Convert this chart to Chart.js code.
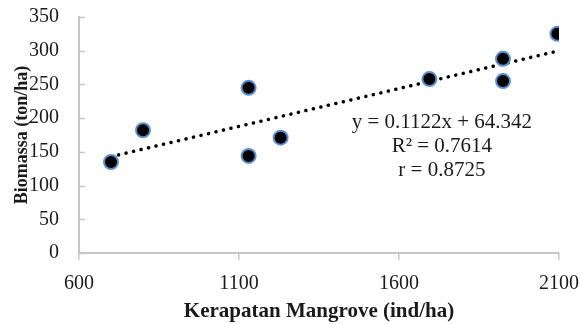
<!DOCTYPE html>
<html>
<head>
<meta charset="utf-8">
<script src="https://cdn.jsdelivr.net/npm/chart.js@4/dist/chart.umd.min.js"></script>
<style>
  html, body { margin: 0; padding: 0; background: #fff; }
  #wrap { width: 580px; height: 324px; position: relative; }
</style>
</head>
<body>
<div id="wrap"><canvas id="chart"></canvas></div>
<script>
// ── Data ────────────────────────────────────
const densityX = [700, 800, 1130, 1130, 1230, 1695, 1925, 1925, 2095];
const biomassY = [135, 182, 245, 144, 171, 258, 288, 255, 325];

// trendline end points
const trendX = [700, 2100];
const trendY = [142.9, 300.0];

const xTicks = [600, 1100, 1600, 2100];
const eqLines = ['y = 0.1122x + 64.342', 'R² = 0.7614', 'r = 0.8725'];

const AXIS_COLOR = '#c6c6c6';
const TEXT_COLOR = '#1a1a1a';
const FONT = "'Liberation Serif', 'Times New Roman', serif";

// inward tick marks on the y axis + regression label
const extrasPlugin = {
    id: 'extras',
    afterDraw(chart) {
        const { ctx, scales: { x, y } } = chart;
        ctx.save();
        ctx.strokeStyle = AXIS_COLOR;
        ctx.lineWidth = 1.5;
        for (let v = 0; v <= 350; v += 50) {
            const py = Math.round(y.getPixelForValue(v)) + 0.5;
            ctx.beginPath();
            ctx.moveTo(x.left, py);
            ctx.lineTo(x.left + 6, py);
            ctx.stroke();
        }
        ctx.fillStyle = TEXT_COLOR;
        ctx.font = `21px ${FONT}`;
        ctx.textAlign = 'center';
        ctx.textBaseline = 'middle';
        const cx = x.getPixelForValue(1734);
        const cy = y.getPixelForValue(194);
        eqLines.forEach((t, i) => ctx.fillText(t, cx, cy + i * 24));
        ctx.restore();
    },
};

new Chart(document.getElementById('chart'), {
    type: 'scatter',
    data: {
        datasets: [
            {
                label: 'Trend',
                type: 'line',
                data: trendX.map((v, i) => ({ x: v, y: trendY[i] })),
                borderColor: '#000',
                borderWidth: 3.5,
                borderDash: [0.1, 7.6],
                borderCapStyle: 'round',
                pointRadius: 0,
                fill: false,
                order: 2,
            },
            {
                label: 'Data',
                data: densityX.map((v, i) => ({ x: v, y: biomassY[i] })),
                backgroundColor: '#000',
                borderColor: '#5b8fd0',
                borderWidth: 2,
                pointRadius: 7,
                pointHoverRadius: 7,
                order: 1,
            },
        ],
    },
    options: {
        responsive: true,
        maintainAspectRatio: false,
        animation: false,
        events: [],
        layout: { padding: { top: 17, right: 21, left: 0, bottom: 0 } },
        plugins: { legend: { display: false }, tooltip: { enabled: false } },
        scales: {
            x: {
                type: 'linear',
                min: 600, max: 2100,
                afterBuildTicks: s => { s.ticks = xTicks.map(v => ({ value: v })); },
                afterFit: s => { s.height = 71; s.paddingLeft = 0; s.paddingRight = 0; },
                border: { color: AXIS_COLOR, width: 2 },
                grid: { drawOnChartArea: false, color: AXIS_COLOR, lineWidth: 1.5, tickLength: 7 },
                ticks: {
                    color: TEXT_COLOR, font: { family: FONT, size: 20 }, padding: 12, maxRotation: 0,
                    callback: v => String(v),
                },
                title: {
                    display: true, text: 'Kerapatan Mangrove (ind/ha)', color: TEXT_COLOR,
                    font: { family: FONT, size: 21, weight: 'bold' }, padding: { top: 0, bottom: 0 },
                },
            },
            y: {
                min: 0, max: 350,
                afterFit: s => { s.width = 79; s.paddingTop = 0; s.paddingBottom = 0; },
                border: { color: AXIS_COLOR, width: 2 },
                grid: { display: false },
                ticks: { stepSize: 50, color: TEXT_COLOR, font: { family: FONT, size: 20 }, padding: 12 },
                title: {
                    display: true, text: 'Biomassa (ton/ha)', color: TEXT_COLOR,
                    font: { family: FONT, size: 18, weight: 'bold' }, padding: { top: 12, bottom: 0 },
                },
            },
        },
    },
    plugins: [extrasPlugin],
});
</script>
</body>
</html>
